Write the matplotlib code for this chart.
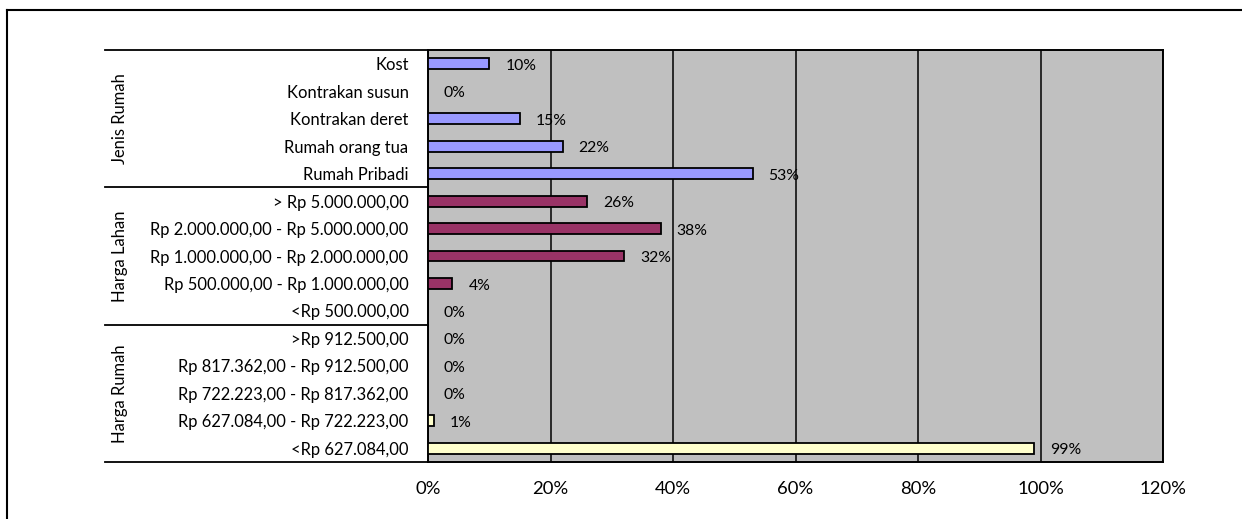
import matplotlib
matplotlib.use("Agg")
import matplotlib.pyplot as plt
from matplotlib import transforms

plt.rcParams['font.family'] = ['Lato', 'DejaVu Sans']

# Data (top to bottom)
categories = ["Kost", "Kontrakan susun", "Kontrakan deret", "Rumah orang tua", "Rumah Pribadi",
              "> Rp 5.000.000,00", "Rp 2.000.000,00 - Rp 5.000.000,00",
              "Rp 1.000.000,00 - Rp 2.000.000,00", "Rp 500.000,00 - Rp 1.000.000,00",
              "<Rp 500.000,00",
              ">Rp 912.500,00", "Rp 817.362,00 - Rp 912.500,00", "Rp 722.223,00 - Rp 817.362,00",
              "Rp 627.084,00 - Rp 722.223,00", "<Rp 627.084,00"]
values = [10, 0, 15, 22, 53,
          26, 38, 32, 4, 0,
          0, 0, 0, 1, 99]
groups = ["Jenis Rumah", "Harga Lahan", "Harga Rumah"]
group_sizes = [5, 5, 5]
group_colors = ["#9999FF", "#993366", "#FFFFCC"]
xticks = [0, 20, 40, 60, 80, 100, 120]

W, H = 1242, 519
fig = plt.figure(figsize=(W / 100, H / 100), dpi=100)
ax = fig.add_axes([428 / W, 1 - 462 / H, (1163 - 428) / W, (462 - 50) / H])
ax.set_facecolor("#C0C0C0")

colors = []
for c, n in zip(group_colors, group_sizes):
    colors += [c] * n

ys = list(range(len(categories)))
ax.barh(ys, values, height=0.4, color=colors, edgecolor="black", linewidth=1.3, zorder=3)

for y, v in zip(ys, values):
    ax.annotate(f"{v}%", (v, y), xytext=(11.5, -1.5), textcoords="offset points",
                va="center", ha="left", fontsize=11.3, zorder=4)

ax.set_xlim(0, 120)
ax.set_ylim(len(categories) - 0.5, -0.5)
ax.set_xticks(xticks)
ax.set_xticklabels([f"{t}%" for t in xticks], fontsize=13.3)
ax.set_yticks(ys)
ax.set_yticklabels(categories, fontsize=11.9)
ax.tick_params(axis="both", length=0)
ax.tick_params(axis="y", pad=14)
ax.tick_params(axis="x", pad=14)
ax.grid(axis="x", color="black", linewidth=1.1, zorder=1)
for s in ax.spines.values():
    s.set_color("black")
    s.set_linewidth(1.4)

# group labels and separators on the left
trans = transforms.blended_transform_factory(fig.transFigure, ax.transData)
start = -0.5
for g, n in zip(groups, group_sizes):
    ax.plot([105 / W, 428 / W], [start, start], transform=trans, color="black",
            linewidth=1.3, clip_on=False)
    fig.text(120 / W, start + n / 2, g, transform=trans, rotation=90,
             ha="center", va="center", fontsize=11.9)
    start += n
ax.plot([105 / W, 428 / W], [start, start], transform=trans, color="black",
        linewidth=1.3, clip_on=False)

# outer chart border (top and left visible)
fig.add_artist(plt.Line2D([7 / W, 7 / W], [0, 1 - 10 / H], color="black", linewidth=1.5))
fig.add_artist(plt.Line2D([7 / W, 1], [1 - 10 / H, 1 - 10 / H], color="black", linewidth=1.5))

fig.savefig("out.png", dpi=100)
